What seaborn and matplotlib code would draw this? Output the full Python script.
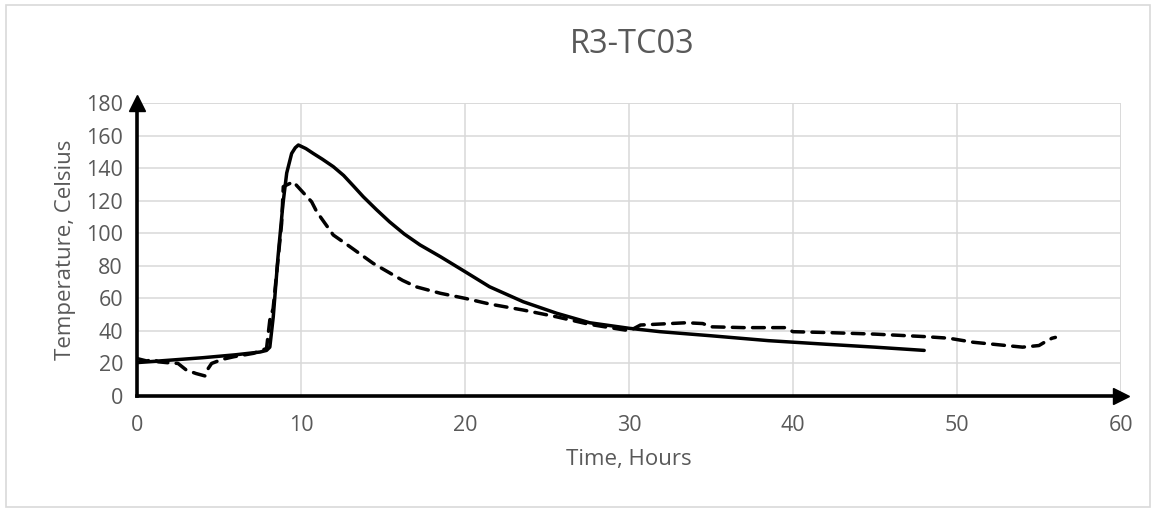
import numpy as np
import pandas as pd
import matplotlib
matplotlib.use("Agg")
import matplotlib.pyplot as plt
import seaborn as sns

# Thermocouple R3-TC03 readings: two traces over the same time axis
time_a = [0, 2, 4, 6, 7.5, 7.9, 8.1, 8.31, 8.6, 8.9, 9.13, 9.43, 9.65, 9.84, 10.3, 10.75,
          11.3, 11.97, 12.6, 13.2, 13.8, 14.6, 15.4, 16.3, 17.26, 18.5, 20.0, 21.5,
          23.55, 25.6, 27.6, 30.0, 31.9, 35.0, 38.5, 42.0, 45.0, 48.0]
temp_a = [20.5, 22, 23.5, 25.3, 27, 28, 30, 48.7, 85.6, 118, 137, 149, 152.5, 154.2, 152, 149,
          145.5, 140.9, 135.5, 129, 122.4, 114.5, 107, 99.5, 92.8, 85.6, 76.4, 67.1,
          57.9, 50.8, 45, 41.6, 39.5, 37, 34, 31.8, 30, 28]

time_b = [0, 0.6, 1.0, 1.3, 1.8, 2.5, 3.0, 3.6, 4.15, 4.35, 4.55, 5.2, 5.9, 7.1, 7.9,
          8.1, 8.3, 8.82, 8.92, 9.53, 10.65, 10.96, 11.97, 12.99, 14.4, 16.2, 17.05,
          18.5, 20.0, 21.5, 23.55, 25.6, 27.6, 29.45, 30.05, 30.7, 31.9, 33.5, 34.5, 35.0,
          37.0, 39.5, 40.0, 42.0, 45.0, 48.0, 49.5, 51.0, 53.0, 54.0, 55.0, 55.5, 55.8, 56.0]
temp_b = [23, 21.5, 22.5, 21, 20.5, 20, 16, 13.8, 12.3, 17, 20, 22.5, 24.1, 26.2, 29.2,
          46.7, 53.7, 106, 128.6, 131.6, 119.3, 113.2, 98.9, 91.7, 81.5, 71, 67,
          63.1, 60, 56.5, 52.8, 48.6, 44, 41, 40.1, 43.6, 44.2, 45, 44.5, 42.5,
          42, 42, 39.5, 39, 38, 36.5, 35.5, 33, 31, 30, 31, 34, 35.5, 36]

x_ticks = [0, 10, 20, 30, 40, 50, 60]
y_ticks = [0, 20, 40, 60, 80, 100, 120, 140, 160, 180]

title = "R3-TC03"
x_label = "Time, Hours"
y_label = "Temperature, Celsius"

df_a = pd.DataFrame({"t": time_a, "T": temp_a})
df_b = pd.DataFrame({"t": time_b, "T": temp_b})

sns.set_theme(style="white")
plt.rcParams["font.family"] = ["Open Sans", "DejaVu Sans"]

text_grey = "#595959"
grid_grey = "#d9d9d9"

fig = plt.figure(figsize=(11.56, 5.12), dpi=100)
fig.patch.set_facecolor("white")
ax = fig.add_axes([0.1185, 0.2266, 0.8512, 0.5722])

sns.lineplot(data=df_a, x="t", y="T", ax=ax, color="black", linewidth=2.5,
             estimator=None, sort=False, zorder=4)
sns.lineplot(data=df_b, x="t", y="T", ax=ax, color="black", linewidth=2.5,
             estimator=None, sort=False, zorder=3,
             linestyle=(0, (3.4, 2.4)), dash_capstyle="round")

ax.set_xlim(x_ticks[0], x_ticks[-1])
ax.set_ylim(y_ticks[0], y_ticks[-1])
ax.set_xticks(x_ticks)
ax.set_yticks(y_ticks)
ax.set_xticklabels([str(v) for v in x_ticks])
ax.set_yticklabels([str(v) for v in y_ticks])

ax.grid(True, color=grid_grey, linewidth=1.1)
ax.set_axisbelow(True)
for side in ("top", "right"):
    ax.spines[side].set_visible(False)
for side in ("left", "bottom"):
    ax.spines[side].set_color("black")
    ax.spines[side].set_linewidth(2.6)
    ax.spines[side].set_zorder(5)

# the outer grid edges at x=60 and y=180
ax.axvline(x_ticks[-1], color=grid_grey, linewidth=1.1, zorder=0)
ax.axhline(y_ticks[-1], color=grid_grey, linewidth=1.1, zorder=0)

# arrow heads at the ends of both axes
ax.plot(1, 0, marker=">", color="black", markersize=11, transform=ax.transAxes,
        clip_on=False, zorder=6)
ax.plot(0, 1, marker="^", color="black", markersize=11, transform=ax.transAxes,
        clip_on=False, zorder=6)

ax.tick_params(axis="both", which="major", direction="out", length=5, width=2.4,
               color="black", labelsize=15.5, labelcolor=text_grey)
ax.tick_params(axis="y", pad=5)
ax.tick_params(axis="x", pad=9)

ax.set_xlabel(x_label, fontsize=16, color=text_grey, labelpad=9)
ax.set_ylabel(y_label, fontsize=16, color=text_grey, labelpad=7)
fig.text(0.5465, 0.913, title, ha="center", va="center", fontsize=23.5, color=text_grey)

# light frame around the whole chart
frame = plt.Rectangle((0.005, 0.01), 0.99, 0.98, transform=fig.transFigure,
                      fill=False, edgecolor=grid_grey, linewidth=1.2)
fig.patches.append(frame)

fig.savefig("out.png", dpi=100, facecolor="white")
